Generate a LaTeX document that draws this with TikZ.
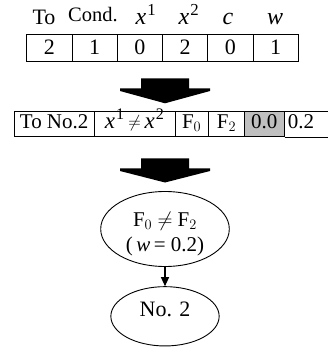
\documentclass[tikz,border=0pt]{standalone}
\usepackage{fontspec}
\setmainfont{Liberation Serif}
\usetikzlibrary{shapes.geometric,arrows.meta}
\newcommand{\xs}[1]{\textit{x}\kern1pt\textsuperscript{#1}}
\begin{document}
\begin{tikzpicture}[x=1pt,y=-1pt,
  cellA/.style={draw, line width=0.8pt, inner sep=0pt, minimum height=27.4pt,
    minimum width=45.27pt, font=\fontsize{22}{24}\selectfont, text height=16pt, text depth=2pt},
  cellB/.style={draw, line width=0.8pt, inner sep=0pt, minimum height=25pt,
    font=\fontsize{21}{24}\selectfont, text height=14pt, text depth=5.8pt},
  shade/.style={cellB, fill=black!25},
  head/.style={anchor=base, inner sep=0pt, font=\fontsize{22}{24}\selectfont},
  bigarrow/.style={fill=black, draw=none},
  oval/.style={draw, ellipse, line width=0.9pt, inner sep=0pt},
  txt/.style={anchor=base, inner sep=0pt, font=\fontsize{21}{24}\selectfont},
  conn/.style={line width=1.1pt, -{Triangle[length=9pt,width=8pt]}}
]
\useasboundingbox (0,0) rectangle (327,347);

% header labels
\node[head] (hTo) at (44,25) {To};
\node[head, font=\fontsize{20.5}{22}\selectfont] (hCond) at (93,22) {Cond.};
\node[head, font=\fontsize{24}{26}\selectfont] (hx1) at (146,25) {\xs{1}};
\node[head, font=\fontsize{24}{26}\selectfont] (hx2) at (189,25) {\xs{2}};
\node[head, font=\fontsize{24}{26}\selectfont] (hc) at (228,25) {\textit{c}};
\node[head, font=\fontsize{24}{26}\selectfont] (hw) at (275,25) {\textit{w}};

% top table
\foreach \v [count=\i from 0] in {2,1,0,2,0,1}
  \node[cellA] (a\i) at ({26.7+45.27*\i+22.635},48) {\v};

% big arrow 1
\path[bigarrow] (141,78.3) -- (189,78.3) -- (189,88.3) -- (210,88.3) -- (210,91)
  -- (165,103.3) -- (120,91) -- (120,88.3) -- (141,88.3) -- cycle;

% second table
\node[cellB, minimum width=80.3pt] (b0) at (54.15,124.2) {To No.2};
\node[cellB, minimum width=80.7pt, font=\fontsize{23}{24}\selectfont] (b1) at (134.65,124.2) {\xs{1}\,\raisebox{1.2pt}{\fontsize{19}{20}\selectfont$\neq$}\,\xs{2}};
\node[cellB, minimum width=33.3pt] (b2) at (191.65,124.2) {F$_0$};
\node[cellB, minimum width=36.2pt] (b3) at (226.6,124.2) {F$_2$};
\node[shade, minimum width=39.5pt] (b4) at (264.35,124.2) {0.0};
\node[cellB, draw=none, minimum width=34pt] (b5) at (301,124.2) {0.2};
\draw[line width=0.8pt] (b4.north east) -- ++(50,0);
\draw[line width=0.8pt] (b4.south east) -- ++(50,0);

% big arrow 2
\path[bigarrow] (141,158.3) -- (189,158.3) -- (189,168.3) -- (210,168.3) -- (210,171)
  -- (165,182.5) -- (120,171) -- (120,168.3) -- (141,168.3) -- cycle;

% ellipses
\node[oval, minimum width=128.6pt, minimum height=75pt] (e1) at (165,229) {};
\node[txt] (e1a) at (165,226.7) {F$_0$ $\neq$ F$_2$};
\node[txt] (e1b) at (165,251.7) {(\,\textit{w}\,= 0.2)};

\node[oval, minimum width=108.3pt, minimum height=59.3pt] (e2) at (165,316.3) {};
\node[txt, font=\fontsize{22}{24}\selectfont] (e2a) at (165,316.7) {No. 2};

\draw[conn] (e1) -- (e2);
\end{tikzpicture}
\end{document}
